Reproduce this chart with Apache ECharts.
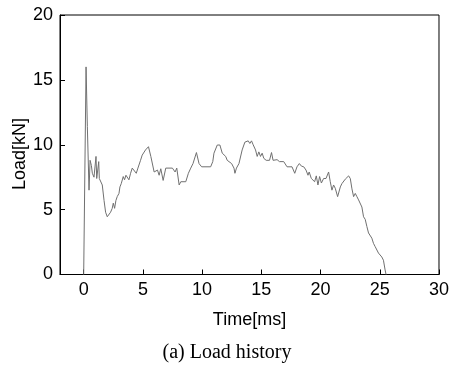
<!DOCTYPE html>
<html>
<head>
<meta charset="utf-8">
<script src="https://cdn.jsdelivr.net/npm/echarts@6/dist/echarts.min.js"></script>
<style>html,body{margin:0;padding:0;background:#fff;}#chart{width:452px;height:365px;}</style>
</head>
<body>
<div id="chart"></div>
<script>
const timeMs = [0, 0.2, 0.31, 0.45, 0.54, 0.65, 0.73, 0.87, 0.96, 1.04, 1.1, 1.2, 1.27, 1.32, 1.43, 1.57, 1.72, 1.85, 1.99, 2.13, 2.27, 2.41, 2.5, 2.61, 2.72, 2.83, 2.98, 3.06, 3.17, 3.34, 3.45, 3.57, 3.68, 3.82, 3.96, 4.1, 4.24, 4.44, 4.58, 4.8, 4.94, 5.22, 5.47, 5.67, 5.95, 6.09, 6.23, 6.37, 6.51, 6.71, 6.93, 7.49, 7.72, 7.86, 8.06, 8.2, 8.62, 8.84, 9.04, 9.23, 9.52, 9.74, 9.96, 10.72, 10.9, 11.0, 11.28, 11.5, 11.7, 11.84, 11.99, 12.12, 12.26, 12.49, 12.69, 12.77, 12.9, 13.11, 13.38, 13.61, 13.75, 13.89, 14.03, 14.17, 14.31, 14.51, 14.65, 14.79, 14.93, 15.07, 15.21, 15.41, 15.55, 15.69, 15.86, 15.99, 16.13, 16.33, 16.53, 16.69, 16.89, 17.17, 17.59, 17.82, 18.01, 18.21, 18.39, 18.58, 18.77, 18.94, 19.04, 19.22, 19.36, 19.5, 19.64, 19.78, 19.92, 20.07, 20.26, 20.46, 20.68, 20.82, 20.96, 21.1, 21.24, 21.44, 21.67, 21.8, 21.94, 22.09, 22.23, 22.37, 22.51, 22.65, 22.79, 22.93, 23.07, 23.21, 23.35, 23.49, 23.63, 23.77, 23.91, 24.05, 24.19, 24.33, 24.47, 24.61, 24.75, 24.89, 25.03, 25.17, 25.31, 25.45, 25.53];
const loadKN = [0, 16.0, 11.4, 6.5, 8.8, 8.4, 7.8, 7.5, 7.4, 9.1, 7.4, 7.5, 8.7, 7.4, 7.4, 6.9, 5.7, 4.8, 4.45, 4.45, 4.8, 5.1, 5.5, 5.1, 5.7, 6.0, 6.25, 6.75, 7.0, 7.55, 7.3, 7.65, 7.65, 7.3, 7.8, 8.2, 8.05, 7.8, 8.2, 8.8, 9.2, 9.6, 9.85, 9.1, 7.9, 7.8, 8.05, 7.65, 8.15, 7.25, 8.2, 8.2, 7.9, 8.2, 6.9, 7.15, 7.15, 7.8, 8.2, 8.55, 9.4, 8.55, 8.3, 8.3, 8.7, 9.35, 9.98, 9.98, 9.35, 9.45, 9.1, 8.8, 8.7, 8.55, 8.2, 7.8, 8.2, 8.55, 9.6, 10.2, 10.1, 10.3, 10.1, 10.3, 10.0, 9.6, 9.1, 9.45, 9.1, 9.35, 8.95, 8.8, 8.7, 8.8, 9.4, 8.8, 8.7, 8.85, 8.7, 8.75, 8.7, 8.3, 8.3, 7.8, 8.3, 8.55, 8.35, 8.3, 8.05, 7.65, 7.9, 7.4, 7.3, 7.15, 7.6, 6.9, 7.55, 7.05, 7.4, 7.4, 7.9, 7.15, 6.5, 6.9, 6.65, 6.0, 6.75, 7.0, 6.85, 7.35, 7.4, 7.6, 7.4, 6.6, 6.0, 6.25, 6.0, 5.75, 5.85, 5.2, 4.45, 4.25, 3.7, 3.2, 3.05, 2.8, 2.4, 2.15, 2.0, 1.65, 1.5, 1.35, 1.1, 0.35, 0];
const xTicks = [0, 5, 10, 15, 20, 25, 30];
const yTicks = [0, 5, 10, 15, 20];
const xTitle = 'Time[ms]';
const yTitle = 'Load[kN]';
const caption = '(a) Load history';

const chart = echarts.init(document.getElementById('chart'), null, {renderer: 'canvas'});
const sans = '"Liberation Sans", Arial, sans-serif';
const serif = '"Liberation Serif", "Times New Roman", serif';
const seriesData = timeMs.map((t, i) => [t, loadKN[i]]);

chart.setOption({
  animation: false,
  backgroundColor: '#fff',
  grid: {left: 60, right: 12, top: 15, bottom: 90.5, show: true, borderColor: '#000', borderWidth: 1},
  xAxis: {
    type: 'value', min: -2, max: 30,
    name: xTitle, nameLocation: 'middle', nameGap: 37,
    nameTextStyle: {fontFamily: sans, fontSize: 18, color: '#000'},
    axisLine: {show: true, onZero: false, lineStyle: {color: '#000', width: 1}},
    axisTick: {show: true, inside: true, length: 5, customValues: xTicks, lineStyle: {color: '#000'}},
    axisLabel: {customValues: xTicks, fontFamily: sans, fontSize: 18, color: '#000', margin: 7},
    splitLine: {show: false}
  },
  yAxis: {
    type: 'value', min: 0, max: 20,
    axisLine: {show: true, onZero: false, lineStyle: {color: '#000', width: 1}},
    axisTick: {show: true, inside: true, length: 5, customValues: yTicks, lineStyle: {color: '#000'}},
    axisLabel: {customValues: yTicks, fontFamily: sans, fontSize: 18, color: '#000', margin: 7},
    splitLine: {show: false}
  },
  graphic: [
    {type: 'text', x: 20, y: 154, rotation: Math.PI / 2,
     style: {text: yTitle, fontFamily: sans, fontSize: 18, fill: '#000', align: 'center', verticalAlign: 'middle'}},
    {type: 'text', x: 227, y: 353,
     style: {text: caption, fontFamily: serif, fontSize: 20, fill: '#000', align: 'center', verticalAlign: 'middle'}}
  ],
  series: [{
    type: 'line', data: seriesData, showSymbol: false, symbol: 'none',
    lineStyle: {color: '#707070', width: 1}
  }]
});
</script>
</body>
</html>
